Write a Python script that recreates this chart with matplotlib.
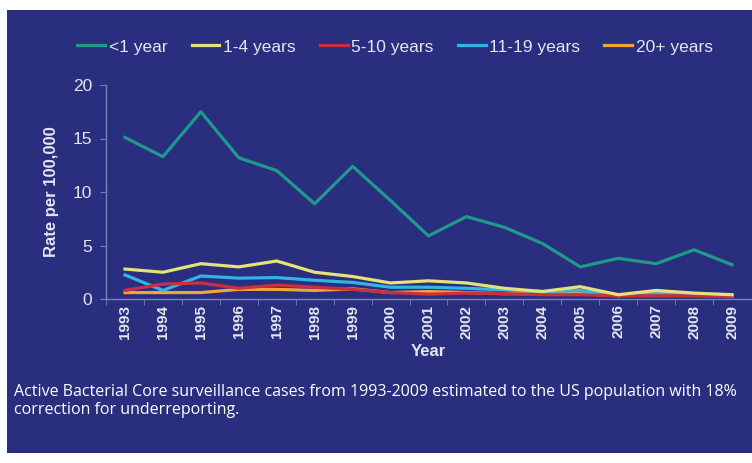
import matplotlib
matplotlib.use('Agg')
from matplotlib import pyplot as plt
from matplotlib.patches import Rectangle

years = list(range(1993, 2010))
lt1 = [15.1, 13.3, 17.5, 13.2, 12.0, 8.9, 12.4, 9.2, 5.9, 7.7, 6.7, 5.2, 3.0, 3.8, 3.3, 4.6, 3.2]
y1_4 = [2.8, 2.5, 3.3, 3.0, 3.55, 2.5, 2.1, 1.5, 1.7, 1.5, 1.0, 0.7, 1.15, 0.4, 0.8, 0.55, 0.4]
y5_10 = [0.8, 1.4, 1.5, 1.0, 1.3, 1.1, 0.9, 0.6, 0.45, 0.55, 0.5, 0.4, 0.4, 0.3, 0.3, 0.3, 0.2]
y11_19 = [2.25, 0.8, 2.15, 1.95, 2.0, 1.75, 1.55, 1.1, 1.1, 1.0, 0.85, 0.7, 0.8, 0.4, 0.5, 0.4, 0.3]
y20p = [0.6, 0.6, 0.6, 0.9, 0.9, 0.8, 0.95, 0.6, 0.7, 0.6, 0.5, 0.5, 0.5, 0.3, 0.6, 0.5, 0.3]

series = [
    ('<1 year', lt1, '#1f9a8a'),
    ('1-4 years', y1_4, '#e6e27a'),
    ('5-10 years', y5_10, '#c8303e'),
    ('11-19 years', y11_19, '#33b4e6'),
    ('20+ years', y20p, '#f0a43a'),
]

bg = '#292e7e'
txt = '#e4e6f0'
narrow = ['Liberation Sans Narrow', 'Liberation Sans', 'DejaVu Sans']

fig = plt.figure(figsize=(7.52, 4.63), dpi=100, facecolor='white')
fig.patches.append(Rectangle((7 / 752, 10 / 463), 1 - 7 / 752, 1 - 20 / 463,
                             transform=fig.transFigure, facecolor=bg,
                             edgecolor='none', zorder=-10))

ax = fig.add_axes([106 / 752, 1 - 299 / 463, (751 - 106) / 752, (299 - 85) / 463])
ax.set_facecolor('none')

# draw in reverse so the <1 year line sits on top
for name, vals, col in series[::-1]:
    ax.plot(years, vals, color=col, lw=2.3, label=name, solid_joinstyle='round')

ax.set_xlim(1992.5, 2009.5)
ax.set_ylim(0, 20)
ax.set_yticks([0, 5, 10, 15, 20])
ax.set_xticks(years)
ax.set_xticks([y + 0.5 for y in years[:-1]] + [1992.5], minor=True)
ax.tick_params(axis='x', which='major', length=0, pad=4)
ax.tick_params(axis='x', which='minor', length=4, color='#7a80b8')
ax.tick_params(axis='y', length=4, color='#7a80b8', pad=6)

for lab in ax.get_xticklabels():
    lab.set_rotation(90)
    lab.set_fontsize(11)
    lab.set_fontweight('bold')
    lab.set_color(txt)
    lab.set_family(narrow)
for lab in ax.get_yticklabels():
    lab.set_fontsize(12.5)
    lab.set_color(txt)
    lab.set_family(narrow)

for s in ['top', 'right']:
    ax.spines[s].set_visible(False)
for s in ['left', 'bottom']:
    ax.spines[s].set_color('#7a80b8')
    ax.spines[s].set_linewidth(1)

ax.set_xlabel('Year', fontsize=12, fontweight='bold', color=txt, family=narrow, labelpad=4)
ax.set_ylabel('Rate per 100,000', fontsize=12, fontweight='bold', color=txt,
              family=narrow, labelpad=10)

handles, labels = ax.get_legend_handles_labels()
leg = fig.legend(handles[::-1], labels[::-1], loc='center', ncol=5,
                 bbox_to_anchor=(395 / 752, 1 - 47 / 463), frameon=False,
                 handlelength=1.6, handletextpad=0.2, columnspacing=1.4,
                 prop={'family': narrow, 'size': 12.5})
for t in leg.get_texts():
    t.set_color(txt)

fig.text(14 / 752, 1 - 401 / 463,
         'Active Bacterial Core surveillance cases from 1993-2009 estimated to the US population with 18%\n'
         'correction for underreporting.',
         ha='left', va='center', fontsize=11.5, color='white', family='Open Sans',
         linespacing=1.1)

fig.savefig('out.png', dpi=100, facecolor=fig.get_facecolor())
